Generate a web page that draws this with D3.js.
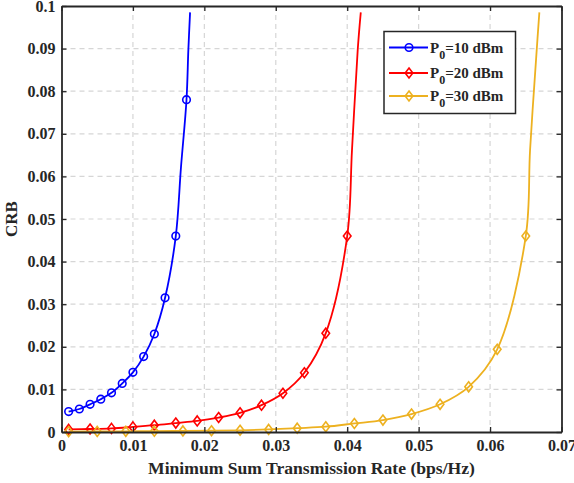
<!DOCTYPE html>
<html>
<head>
<meta charset="utf-8">
<script src="https://cdn.jsdelivr.net/npm/d3@7"></script>
<style>
  html, body { margin: 0; padding: 0; background: #fff; }
  svg { display: block; }
  text { font-family: "Liberation Serif", "Times New Roman", serif; font-weight: bold; fill: #262626; }
</style>
</head>
<body>
<svg id="chart" width="574" height="483"></svg>
<script>
// ---- data ----
const seriesNames = ["10", "20", "30"];           // P0 in dBm
const seriesColors = ["#0000ff", "#ff0000", "#EDB120"];

const blueX = [0.001, 0.0025, 0.004, 0.0055, 0.007, 0.0085, 0.010, 0.0115, 0.013, 0.0145, 0.016, 0.0175];
const blueY = [0.0048, 0.0054, 0.0065, 0.0077, 0.0092, 0.0114, 0.0140, 0.0177, 0.0230, 0.0315, 0.0460, 0.0780];
const blueTailX = [0.01673, 0.01776, 0.0180];
const blueTailY = [0.0622, 0.0897, 0.0985];

const redX = [0.001, 0.004, 0.007, 0.010, 0.013, 0.016, 0.019, 0.022, 0.025, 0.028, 0.031, 0.034, 0.037, 0.040];
const redY = [0.0006, 0.0007, 0.00085, 0.0012, 0.0016, 0.0021, 0.0026, 0.0034, 0.0045, 0.0063, 0.0091, 0.0139, 0.0232, 0.0460];
const redTailX = [0.04067, 0.04147, 0.0419];
const redTailY = [0.0662, 0.0897, 0.0985];

const yellowX = [0.001, 0.005, 0.009, 0.013, 0.017, 0.021, 0.025, 0.029, 0.033, 0.037, 0.041, 0.045, 0.049, 0.053, 0.057, 0.061, 0.065];
const yellowY = [0.0001, 0.00013, 0.00016, 0.0002, 0.00025, 0.0003, 0.0004, 0.0006, 0.0009, 0.00124, 0.0020, 0.0028, 0.0042, 0.0065, 0.0106, 0.0194, 0.0460];
const yellowTailX = [0.0656, 0.06653, 0.0669];
const yellowTailY = [0.0662, 0.0897, 0.0985];

const xTicks = [0, 0.01, 0.02, 0.03, 0.04, 0.05, 0.06, 0.07];
const xTickLabels = ["0", "0.01", "0.02", "0.03", "0.04", "0.05", "0.06", "0.07"];
const yTicks = [0, 0.01, 0.02, 0.03, 0.04, 0.05, 0.06, 0.07, 0.08, 0.09, 0.1];
const yTickLabels = ["0", "0.01", "0.02", "0.03", "0.04", "0.05", "0.06", "0.07", "0.08", "0.09", "0.1"];

const xLabel = "Minimum Sum Transmission Rate (bps/Hz)";
const yLabel = "CRB";

// ---- layout ----
const L = 61.5, R = 561.5, T = 6, B = 432;
const svg = d3.select("#chart");
svg.append("rect").attr("width", 574).attr("height", 483).attr("fill", "#fff");

const x = d3.scaleLinear().domain([0, 0.07]).range([L, R]);
const y = d3.scaleLinear().domain([0, 0.1]).range([B, T]);

// grid
const grid = svg.append("g").attr("stroke", "#d6d6d6").attr("stroke-width", 1.2).attr("stroke-dasharray", "5,4");
grid.selectAll("line.v").data(xTicks.slice(1, -1)).enter().append("line")
  .attr("x1", d => x(d)).attr("x2", d => x(d)).attr("y1", T).attr("y2", B);
grid.selectAll("line.h").data(yTicks.slice(1, -1)).enter().append("line")
  .attr("x1", L).attr("x2", R).attr("y1", d => y(d)).attr("y2", d => y(d));

// series
const series = [
  { mx: blueX, my: blueY, tx: blueTailX, ty: blueTailY, marker: "circle" },
  { mx: redX, my: redY, tx: redTailX, ty: redTailY, marker: "diamond" },
  { mx: yellowX, my: yellowY, tx: yellowTailX, ty: yellowTailY, marker: "diamond" }
];

const line = d3.line().x(d => x(d[0])).y(d => y(d[1])).curve(d3.curveCatmullRom.alpha(0.5));
const circleSym = d3.symbol().type(d3.symbolCircle).size(Math.PI * 3.8 * 3.8);
function diamondPath(cx, cy) {
  const w = 3.8, h = 5;
  return `M${cx},${cy - h}L${cx + w},${cy}L${cx},${cy + h}L${cx - w},${cy}Z`;
}

series.forEach((s, i) => {
  const pts = s.mx.map((v, k) => [v, s.my[k]])
    .concat(s.tx.map((v, k) => [v, s.ty[k]]))
    .sort((a, b) => a[0] - b[0]);
  const g = svg.append("g");
  g.append("path").attr("d", line(pts)).attr("fill", "none")
    .attr("stroke", seriesColors[i]).attr("stroke-width", 1.8);
  s.mx.forEach((v, k) => {
    const cx = x(v), cy = y(s.my[k]);
    if (s.marker === "circle") {
      g.append("path").attr("d", circleSym()).attr("transform", `translate(${cx},${cy})`)
        .attr("fill", "none").attr("stroke", seriesColors[i]).attr("stroke-width", 1.6);
    } else {
      g.append("path").attr("d", diamondPath(cx, cy))
        .attr("fill", "none").attr("stroke", seriesColors[i]).attr("stroke-width", 1.6);
    }
  });
});

// axes
const axColor = "#262626";
function styleAxis(g) {
  g.select(".domain").attr("stroke", axColor).attr("stroke-width", 1.8);
  g.selectAll(".tick line").attr("stroke", axColor).attr("stroke-width", 1.3);
  g.selectAll(".tick text").attr("fill", axColor)
    .style("font-family", '"Liberation Serif", "Times New Roman", serif')
    .style("font-weight", "bold").style("font-size", "16px");
}
svg.append("g").attr("transform", `translate(0,${B})`)
  .call(d3.axisBottom(x).tickValues(xTicks).tickFormat((d, i) => xTickLabels[i]).tickSize(-5).tickSizeOuter(0).tickPadding(8))
  .call(styleAxis);
svg.append("g").attr("transform", `translate(0,${T})`)
  .call(d3.axisTop(x).tickValues(xTicks).tickFormat("").tickSize(-5).tickSizeOuter(0))
  .call(styleAxis);
svg.append("g").attr("transform", `translate(${L},0)`)
  .call(d3.axisLeft(y).tickValues(yTicks).tickFormat((d, i) => yTickLabels[i]).tickSize(-5).tickSizeOuter(0).tickPadding(6))
  .call(styleAxis);
svg.append("g").attr("transform", `translate(${R},0)`)
  .call(d3.axisRight(y).tickValues(yTicks).tickFormat("").tickSize(-5).tickSizeOuter(0))
  .call(styleAxis);

// axis labels
svg.append("text").attr("x", (L + R) / 2).attr("y", 474).attr("text-anchor", "middle")
  .style("font-size", "17.6px").text(xLabel);
svg.append("text").attr("transform", `translate(17,${(T + B) / 2}) rotate(-90)`)
  .attr("text-anchor", "middle").style("font-size", "17px").text(yLabel);

// legend
const lg = svg.append("g");
lg.append("rect").attr("x", 384).attr("y", 31.5).attr("width", 131.5).attr("height", 82)
  .attr("fill", "#fff").attr("stroke", axColor).attr("stroke-width", 1.5);
const legY = [47.5, 73, 96];
seriesNames.forEach((name, i) => {
  const yy = legY[i];
  lg.append("line").attr("x1", 389).attr("x2", 428).attr("y1", yy).attr("y2", yy)
    .attr("stroke", seriesColors[i]).attr("stroke-width", 1.8);
  if (i === 0) {
    lg.append("path").attr("d", circleSym()).attr("transform", `translate(409,${yy})`)
      .attr("fill", "none").attr("stroke", seriesColors[i]).attr("stroke-width", 1.6);
  } else {
    lg.append("path").attr("d", diamondPath(409, yy))
      .attr("fill", "none").attr("stroke", seriesColors[i]).attr("stroke-width", 1.6);
  }
  const t = lg.append("text").attr("x", 430).attr("y", yy + 5).style("font-size", "15px");
  t.append("tspan").text("P");
  t.append("tspan").attr("dy", 6).style("font-size", "12px").text("0");
  t.append("tspan").attr("dy", -6).text("=" + name + " dBm");
});
</script>
</body>
</html>
